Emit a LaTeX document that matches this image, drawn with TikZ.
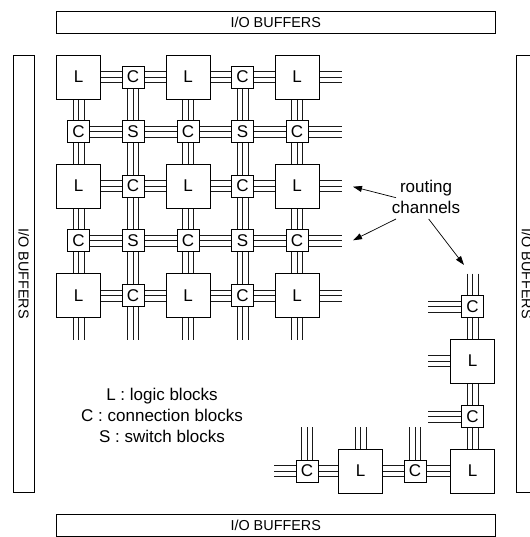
\documentclass[tikz,border=0pt]{standalone}
\usepackage{fontspec}
\setmainfont{Liberation Sans}
\usetikzlibrary{arrows.meta,backgrounds}
\tikzset{
  every node/.style={font=\fontsize{17pt}{20.4pt}\selectfont,inner sep=0pt,outer sep=0pt},
  blk/.style={draw=black,fill=white,line width=0.8pt},
  lblock/.style={blk,minimum width=44pt,minimum height=44pt},
  cblock/.style={blk,minimum width=22pt,minimum height=22pt},
  buftext/.style={font=\fontsize{14.4pt}{17pt}\selectfont},
  hbuf/.style={blk,buftext,minimum width=438.5pt,minimum height=22pt},
  vbuf/.style={blk,buftext,minimum width=437.5pt,minimum height=21.5pt,rotate=-90},
  wire/.style={line width=0.8pt,draw=black!90},
  pointer/.style={line width=0.7pt,-{Triangle[length=9pt,width=6pt]}},
  txt/.style={align=center}
}
\newcommand{\hch}[2]{\draw[wire] ([yshift=5.5pt]#1.center) -- ([yshift=5.5pt]#2.center) (#1.center) -- (#2.center) ([yshift=-5.5pt]#1.center) -- ([yshift=-5.5pt]#2.center);}
\newcommand{\vch}[2]{\draw[wire] ([xshift=-5.5pt]#1.center) -- ([xshift=-5.5pt]#2.center) (#1.center) -- (#2.center) ([xshift=5.5pt]#1.center) -- ([xshift=5.5pt]#2.center);}
\begin{document}
\begin{tikzpicture}[x=1pt,y=-1pt]
\useasboundingbox (0,0) rectangle (529,537);
% buffers
\node[hbuf] (topbuf) at (275.75,22) {I/O BUFFERS};
\node[hbuf] (botbuf) at (275.75,525) {I/O BUFFERS};
\node[vbuf] (leftbuf) at (23.75,273.8) {I/O BUFFERS};
\node[vbuf] (rightbuf) at (527,273.8) {I/O BUFFERS};
% grid
\node[lblock] (n11) at (78.5,77) {L};
\node[cblock] (n12) at (133,77) {C};
\node[lblock] (n13) at (188,77) {L};
\node[cblock] (n14) at (242.5,77) {C};
\node[lblock] (n15) at (297,77) {L};
\node[cblock] (n21) at (78.5,131.5) {C};
\node[cblock] (n22) at (133,131.5) {S};
\node[cblock] (n23) at (188,131.5) {C};
\node[cblock] (n24) at (242.5,131.5) {S};
\node[cblock] (n25) at (297,131.5) {C};
\node[lblock] (n31) at (78.5,186) {L};
\node[cblock] (n32) at (133,186) {C};
\node[lblock] (n33) at (188,186) {L};
\node[cblock] (n34) at (242.5,186) {C};
\node[lblock] (n35) at (297,186) {L};
\node[cblock] (n41) at (78.5,240.5) {C};
\node[cblock] (n42) at (133,240.5) {S};
\node[cblock] (n43) at (188,240.5) {C};
\node[cblock] (n44) at (242.5,240.5) {S};
\node[cblock] (n45) at (297,240.5) {C};
\node[lblock] (n51) at (78.5,295.5) {L};
\node[cblock] (n52) at (133,295.5) {C};
\node[lblock] (n53) at (188,295.5) {L};
\node[cblock] (n54) at (242.5,295.5) {C};
\node[lblock] (n55) at (297,295.5) {L};
% free ends of grid
\foreach \r/\yy in {1/77,2/131.5,3/186,4/240.5,5/295.5} \coordinate (e\r) at (341.5,\yy);
\foreach \c/\xx in {1/78.5,2/133,3/188,4/242.5,5/297} \coordinate (s\c) at (\xx,339.5);
% corner cluster
\node[cblock] (a1) at (472.5,306.5) {C};
\node[lblock] (a2) at (472.5,361) {L};
\node[cblock] (a3) at (472.5,416.5) {C};
\node[lblock] (a4) at (472.5,471) {L};
\node[cblock] (b1) at (415,471) {C};
\node[lblock] (b2) at (360.5,471) {L};
\node[cblock] (b3) at (307,471) {C};
\coordinate (a0) at (472.5,273.5);
\coordinate (l1) at (428,306.5);
\coordinate (l2) at (428,361);
\coordinate (l3) at (428,416.5);
\coordinate (u1) at (415,427);
\coordinate (u2) at (360.5,427);
\coordinate (u3) at (307,427);
\coordinate (w3) at (274,471);
\begin{pgfonlayer}{background}
\foreach \r in {1,...,5}{
  \foreach \c/\d in {1/2,2/3,3/4,4/5}{\hch{n\r\c}{n\r\d}}
  \hch{n\r5}{e\r}
}
\foreach \c in {1,...,5}{
  \foreach \r/\q in {1/2,2/3,3/4,4/5}{\vch{n\r\c}{n\q\c}}
  \vch{n5\c}{s\c}
}
\vch{a0}{a1}\vch{a1}{a2}\vch{a2}{a3}\vch{a3}{a4}
\hch{l1}{a1}\hch{l2}{a2}\hch{l3}{a3}
\hch{w3}{b3}\hch{b3}{b2}\hch{b2}{b1}\hch{b1}{a4}
\vch{u1}{b1}\vch{u2}{b2}\vch{u3}{b3}
\end{pgfonlayer}
% labels
\node[txt] (routing) at (426,197) {routing\\channels};
\node[txt] (legendL) at (162,395.7) {L : logic blocks};
\node[txt] (legendC) at (162,415.5) {C : connection blocks};
\node[txt] (legendS) at (162,436) {S : switch blocks};
% pointers
\coordinate (p1s) at (396,197.7);
\coordinate (p1e) at (353,186.7);
\coordinate (p2s) at (396,219);
\coordinate (p2e) at (353,240.3);
\coordinate (p3s) at (428.7,219);
\coordinate (p3e) at (464,265);
\draw[pointer] (p1s) -- (p1e);
\draw[pointer] (p2s) -- (p2e);
\draw[pointer] (p3s) -- (p3e);
\end{tikzpicture}
\end{document}
